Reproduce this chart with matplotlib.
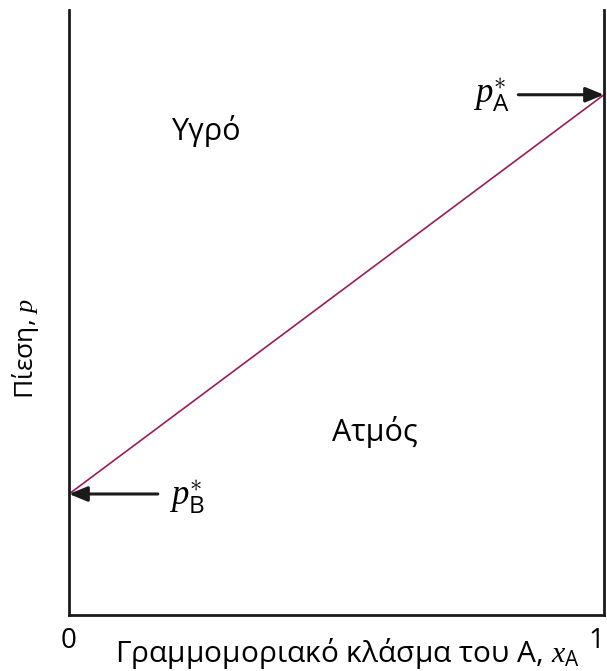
import matplotlib.pyplot as plt

plt.rcParams['font.family'] = ['Open Sans', 'DejaVu Sans']
plt.rcParams['mathtext.fontset'] = 'custom'
plt.rcParams['mathtext.it'] = 'Liberation Serif:italic'
plt.rcParams['mathtext.rm'] = 'Open Sans'

# mole fraction of A at the two ends and the vapour pressures of pure B and A
x_ends = [0, 1]
p_ends = [0.20, 0.86]
p_star_B = p_ends[0]
p_star_A = p_ends[1]
tick_labels = ['0', '1']

line_color = '#9a1b5c'

fig = plt.figure(figsize=(6.07, 6.71), dpi=100)
ax = fig.add_axes([0.1137, 0.0835, 0.8813, 0.9015])

ax.plot(x_ends, p_ends, color=line_color, lw=1.2, solid_capstyle='butt')

ax.set_xlim(0, 1)
ax.set_ylim(0, 1)

for side in ['left', 'right', 'bottom']:
    ax.spines[side].set_linewidth(2.0)
    ax.spines[side].set_color('#1a1a1a')
ax.spines['top'].set_visible(False)

ax.set_xticks(x_ends)
ax.set_xticklabels(tick_labels, fontsize=20)
ax.tick_params(axis='x', length=0, pad=9)
ax.get_xticklabels()[1].set_horizontalalignment('right')
ax.set_yticks([])

ax.set_xlabel(r'Γραμμομοριακό κλάσμα του Α, $x_{\mathrm{A}}$', fontsize=21.5)
ax.xaxis.set_label_coords(0.52, -0.034)
ax.set_ylabel(r'Πίεση, $p$', fontsize=19)
ax.yaxis.set_label_coords(-0.052, 0.44)

# region labels
ax.text(0.255, 0.80, 'Υγρό', fontsize=22, ha='center', va='center')
ax.text(0.572, 0.302, 'Ατμός', fontsize=22, ha='center', va='center')

# arrows pointing at the pure-component vapour pressures
arrow = dict(arrowstyle='-|>,head_length=1.1,head_width=0.45', color='#1a1a1a',
             lw=2.2, shrinkA=0, shrinkB=0)
ax.annotate('', xy=(1, p_star_A), xytext=(0.84, p_star_A), arrowprops=arrow)
ax.text(0.79, p_star_A, r'$p^{\ast}_{\mathrm{A}}$', fontsize=25, ha='center', va='center')
ax.annotate('', xy=(0, p_star_B), xytext=(0.166, p_star_B), arrowprops=arrow)
ax.text(0.22, p_star_B - 0.005, r'$p^{\ast}_{\mathrm{B}}$', fontsize=25, ha='center', va='center')

fig.savefig('out.png', dpi=100)
